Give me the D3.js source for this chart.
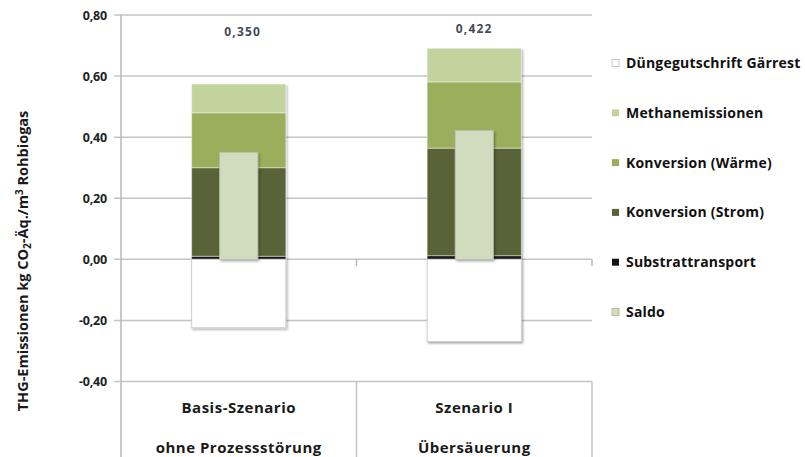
<!DOCTYPE html>
<html>
<head>
<meta charset="utf-8">
<script src="https://cdn.jsdelivr.net/npm/d3@7"></script>
<style>
  html, body { margin: 0; padding: 0; background: #fff; }
  svg { display: block; font-family: "Open Sans", Lato, sans-serif; }
</style>
</head>
<body>
<svg id="chart" width="805" height="457"></svg>
<script>
// Scenarios (two-line category labels)
const categories = ["Basis-Szenario", "Szenario I"];
const categoryLine2 = ["ohne Prozessstörung", "Übersäuerung"];

// Emission components, kg CO2-Äq./m³ Rohbiogas
const substrattransport = [0.010, 0.012];
const konversionStrom   = [0.290, 0.352];
const konversionWaerme  = [0.180, 0.217];
const methanemissionen  = [0.094, 0.110];
const duengegutschrift  = [-0.224, -0.269];
const saldo             = [0.350, 0.422];

const yTicks = [-0.4, -0.2, 0, 0.2, 0.4, 0.6, 0.8];

const seriesKeys   = ["trans", "strom", "waerme", "methan", "duenge"];
const seriesColors = {
  trans: "#141414", strom: "#5a6337", waerme: "#9aae5c",
  methan: "#c2d39d", duenge: "#ffffff", saldo: "#d1dcbf"
};
const legendItems = [
  { key: "duenge", label: "Düngegutschrift Gärrest" },
  { key: "methan", label: "Methanemissionen" },
  { key: "waerme", label: "Konversion (Wärme)" },
  { key: "strom",  label: "Konversion (Strom)" },
  { key: "trans",  label: "Substrattransport" },
  { key: "saldo",  label: "Saldo" }
];

const rows = categories.map((c, i) => ({
  cat: c,
  trans: substrattransport[i],
  strom: konversionStrom[i],
  waerme: konversionWaerme[i],
  methan: methanemissionen[i],
  duenge: duengegutschrift[i],
  saldo: saldo[i]
}));

const svg = d3.select("#chart");
const plotLeft = 121, plotRight = 592, plotTop = 15, plotBottom = 381.5;

const x = d3.scaleBand().domain(categories).range([plotLeft, plotRight]).padding(0);
const y = d3.scaleLinear().domain([-0.4, 0.8]).range([plotBottom, plotTop]);

const fmt = v => d3.format(".2f")(v).replace(".", ",").replace("−", "-");
const fmt3 = v => d3.format(".3f")(v).replace(".", ",");

const defs = svg.append("defs");
const sh = defs.append("filter").attr("id", "shadow")
  .attr("x", "-10%").attr("y", "-10%").attr("width", "130%").attr("height", "130%");
sh.append("feDropShadow").attr("dx", 1.2).attr("dy", 1.5)
  .attr("stdDeviation", 1).attr("flood-color", "#000").attr("flood-opacity", 0.35);

// Horizontal gridlines with outward tick marks
svg.append("g").selectAll("line").data(yTicks).join("line")
  .attr("x1", plotLeft - 7).attr("x2", plotRight)
  .attr("y1", d => y(d)).attr("y2", d => y(d))
  .attr("stroke", "#c4c4c4").attr("stroke-width", 1.5);

// Y axis tick labels
const yAxis = d3.axisLeft(y).tickValues(yTicks).tickFormat(fmt).tickSize(0).tickPadding(14);
const yg = svg.append("g").attr("transform", `translate(${plotLeft},0)`).call(yAxis);
yg.select(".domain").remove();
yg.selectAll("text")
  .attr("font-family", "'Open Sans', sans-serif")
  .attr("font-size", 12.5).attr("font-weight", "bold").attr("fill", "#222")
  .attr("letter-spacing", -0.2);

// Vertical axis line and category separators
svg.append("line").attr("x1", plotLeft).attr("x2", plotLeft).attr("y1", plotTop).attr("y2", 457)
  .attr("stroke", "#b8b8b8").attr("stroke-width", 1.5);
const bounds = [x(categories[1]), plotRight];
svg.append("g").selectAll("line.sep").data(bounds).join("line")
  .attr("x1", d => d).attr("x2", d => d).attr("y1", plotBottom).attr("y2", 457)
  .attr("stroke", "#c4c4c4").attr("stroke-width", 1.5);
svg.append("g").selectAll("line.tk").data(bounds).join("line")
  .attr("x1", d => d).attr("x2", d => d).attr("y1", y(0)).attr("y2", y(0) + 7)
  .attr("stroke", "#b8b8b8").attr("stroke-width", 1.5);

// Stacked bars
const stack = d3.stack().keys(seriesKeys).offset(d3.stackOffsetDiverging);
const stacked = stack(rows);
const barW = x.bandwidth() * 0.4;
const saldoW = x.bandwidth() * 0.162;

const barG = svg.append("g").attr("filter", "url(#shadow)");
stacked.forEach(layer => {
  barG.append("g").selectAll("rect").data(layer).join("rect")
    .attr("x", d => x(d.data.cat) + (x.bandwidth() - barW) / 2)
    .attr("width", barW)
    .attr("y", d => y(Math.max(d[0], d[1])))
    .attr("height", d => Math.abs(y(d[0]) - y(d[1])))
    .attr("fill", seriesColors[layer.key])
    .attr("stroke", layer.key === "duenge" ? "#d0d0d0" : "rgba(255,255,255,0.45)")
    .attr("stroke-width", 1);
});

// Saldo bars (narrower, in front)
svg.append("g").attr("filter", "url(#shadow)").selectAll("rect").data(rows).join("rect")
  .attr("x", d => x(d.cat) + (x.bandwidth() - saldoW) / 2)
  .attr("width", saldoW)
  .attr("y", d => y(d.saldo))
  .attr("height", d => y(0) - y(d.saldo))
  .attr("fill", seriesColors.saldo)
  .attr("stroke", "#b9c2ad").attr("stroke-width", 0.8);

// Saldo value labels
svg.append("g").selectAll("text").data(rows).join("text")
  .attr("x", (d, i) => x(d.cat) + x.bandwidth() / 2 + (i === 0 ? 4 : 0))
  .attr("y", (d, i) => i === 0 ? 35.5 : 33)
  .attr("text-anchor", "middle")
  .attr("font-size", 12).attr("font-weight", "bold").attr("fill", "#434c5a")
  .attr("letter-spacing", 1.2)
  .text(d => fmt3(d.saldo));

// Category labels (two lines)
const catG = svg.append("g").selectAll("g").data(categories).join("g");
catG.append("text")
  .attr("x", d => x(d) + x.bandwidth() / 2).attr("y", 413)
  .attr("text-anchor", "middle").attr("font-size", 15).attr("font-weight", "bold")
  .attr("fill", "#1a1a1a").attr("letter-spacing", 0.5)
  .text(d => d);
catG.append("text")
  .attr("x", d => x(d) + x.bandwidth() / 2).attr("y", 453)
  .attr("text-anchor", "middle").attr("font-size", 15).attr("font-weight", "bold")
  .attr("fill", "#1a1a1a").attr("letter-spacing", 0.5)
  .text((d, i) => categoryLine2[i]);

// Y axis title
const yt = svg.append("text")
  .attr("transform", `translate(28,${(82 + 440) / 2}) rotate(-90)`)
  .attr("text-anchor", "middle")
  .attr("font-size", 14.5).attr("font-weight", "bold").attr("fill", "#1a1a1a");
yt.append("tspan").text("THG-Emissionen kg CO");
yt.append("tspan").attr("font-size", 10).attr("dy", 3).text("2");
yt.append("tspan").attr("dy", -3).text("-Äq./m");
yt.append("tspan").attr("font-size", 10).attr("dy", -5).text("3");
yt.append("tspan").attr("dy", 5).text(" Rohbiogas");

// Legend
const lg = svg.append("g").selectAll("g").data(legendItems).join("g")
  .attr("transform", (d, i) => `translate(612,${63 + i * 49.8})`);
lg.append("rect")
  .attr("x", 0).attr("y", -3.5).attr("width", 7).attr("height", 7)
  .attr("fill", d => seriesColors[d.key])
  .attr("stroke", d => d.key === "duenge" ? "#bbbbbb" : (d.key === "saldo" ? "#a9b39c" : "none"))
  .attr("stroke-width", 0.8);
lg.append("text")
  .attr("x", 14).attr("y", 0).attr("dy", "0.35em")
  .attr("font-size", 14).attr("font-weight", "bold").attr("fill", "#111")
  .attr("letter-spacing", 0.2)
  .text(d => d.label);
</script>
</body>
</html>
